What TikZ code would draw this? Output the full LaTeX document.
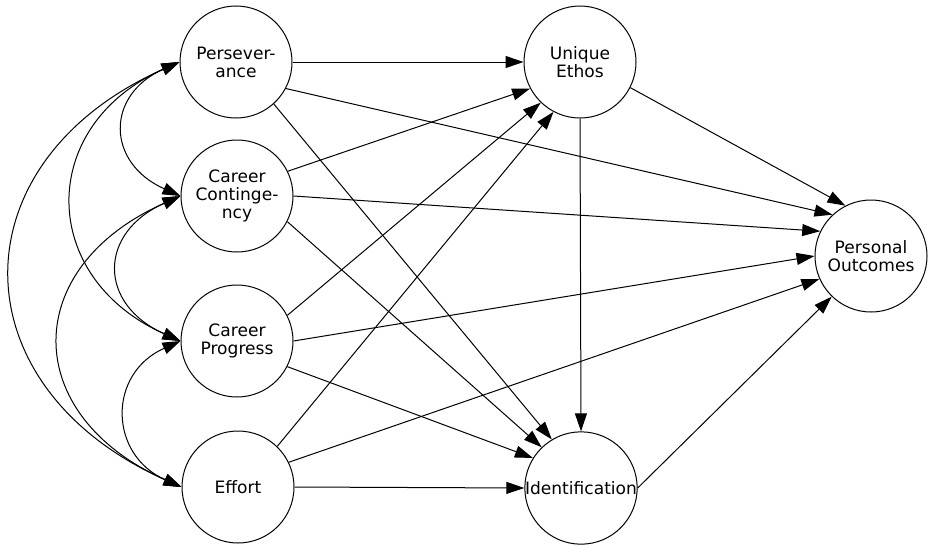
\documentclass[tikz,border=0pt]{standalone}
\usepackage{fontspec}
\setmainfont{DejaVu Sans}
\usetikzlibrary{arrows.meta}
\tikzset{
  latent/.style={draw, circle, line width=0.75pt, minimum size=84pt, inner sep=0pt,
                 align=center, font=\fontsize{12.8pt}{13.5pt}\selectfont},
  effarr/.style={-{Triangle[length=13.5pt, width=9pt]}, line width=0.75pt},
  covarr/.style={{Triangle[length=13.5pt, width=9pt]}-{Triangle[length=13.5pt, width=9pt]},
                 line width=0.75pt},
}
\begin{document}
\begin{tikzpicture}[x=0.75pt, y=0.75pt]
  \useasboundingbox (0,0) rectangle (930,-546);
  % exogenous factors
  \node[latent] (pers)    at (236,-62)  {Persever-\\ance};
  \node[latent] (cont)    at (237,-196) {Career\\Continge-\\ncy};
  \node[latent] (prog)    at (237,-341) {Career\\Progress};
  \node[latent] (effort)  at (238,-487) {Effort};
  % mediators and outcome
  \node[latent] (ethos)   at (580,-62)  {Unique\\Ethos};
  \node[latent] (ident)   at (581,-488) {Identification};
  \node[latent] (outcome) at (871,-256) {Personal\\Outcomes};
  % covariances
  \draw[covarr] (pers.west) to[out=204, in=156, looseness=1.55] (cont.west);
  \draw[covarr] (pers.west) to[out=204, in=156, looseness=1.43] (prog.west);
  \draw[covarr] (pers.west) to[out=204, in=156, looseness=1.48] (effort.west);
  \draw[covarr] (cont.west) to[out=204, in=156, looseness=1.60] (prog.west);
  \draw[covarr] (cont.west) to[out=204, in=156, looseness=1.55] (effort.west);
  \draw[covarr] (prog.west) to[out=204, in=156, looseness=1.40] (effort.west);
  % paths
  \draw[effarr] (pers.east) -- (ethos.west);
  \draw[effarr] (pers.-28) -- (outcome.133);
  \draw[effarr] (pers.-48) -- (ident.121);
  \draw[effarr] (cont.26) -- (ethos.208);
  \draw[effarr] (cont.east) -- (outcome.154);
  \draw[effarr] (cont.-27) -- (ident.134);
  \draw[effarr] (prog.27) -- (ethos.226);
  \draw[effarr] (prog.east) -- (outcome.west);
  \draw[effarr] (prog.-27) -- (ident.148);
  \draw[effarr] (effort.46) -- (ethos.242);
  \draw[effarr] (effort.26) -- (outcome.204);
  \draw[effarr] (effort.east) -- (ident.west);
  \draw[effarr] (ethos.-27) -- (outcome.117);
  \draw[effarr] (ethos.south) -- (ident.north);
  \draw[effarr] (ident.east) -- (outcome.226);
\end{tikzpicture}
\end{document}
